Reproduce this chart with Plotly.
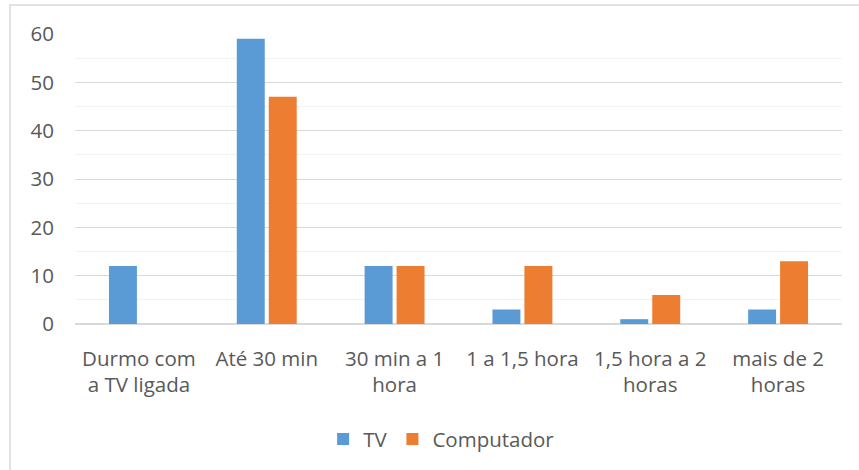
import plotly.graph_objects as go

categorias = ["Durmo com<br>a TV ligada", "Até 30 min", "30 min a 1<br>hora",
              "1 a 1,5 hora", "1,5 hora a 2<br>horas", "mais de 2<br>horas"]
tv = [12, 59, 12, 3, 1, 3]
computador = [0, 47, 12, 12, 6, 13]
y_ticks = [0, 10, 20, 30, 40, 50, 60]

FONT = "Open Sans"
TXT = "#595959"
SIZE = 20.5

fig = go.Figure()
fig.add_trace(go.Bar(name="TV", x=categorias, y=tv, marker_color="#5B9BD5",
                     marker_line_width=0))
fig.add_trace(go.Bar(name="Computador", x=categorias, y=computador,
                     marker_color="#ED7D31", marker_line_width=0))

fig.update_layout(
    width=859, height=470,
    margin=dict(l=75, r=17, t=34, b=146, autoexpand=False),
    paper_bgcolor="white", plot_bgcolor="white",
    barmode="group", bargap=0.5, bargroupgap=0.125,
    font=dict(family=FONT, size=SIZE, color=TXT),
    showlegend=True,
    legend=dict(orientation="h", x=0.478, xanchor="center", y=-0.397,
                yanchor="middle", font=dict(family=FONT, size=SIZE, color=TXT),
                itemwidth=30, tracegroupgap=0, traceorder="normal"),
    shapes=[dict(type="rect", xref="paper", yref="paper",
                 x0=-0.0847, x1=1.2, y0=-0.7, y1=1.1,
                 line=dict(color="#D9D9D9", width=1.5), layer="below")],
)

fig.update_xaxes(showgrid=False, showline=False, ticks="", zeroline=False,
                 automargin=False, ticklabelstandoff=20,
                 tickfont=dict(family=FONT, size=SIZE, color=TXT))
fig.update_yaxes(range=[0, 60], tickvals=y_ticks, showgrid=True,
                 gridcolor="#D9D9D9", gridwidth=1.3,
                 minor=dict(dtick=5, showgrid=True, gridcolor="#F2F2F2", gridwidth=1.3),
                 zeroline=True, zerolinecolor="#D9D9D9", zerolinewidth=1.5,
                 showline=False, ticks="", ticklabelstandoff=20, automargin=False,
                 tickfont=dict(family=FONT, size=SIZE, color=TXT))

fig.write_html("out.html")
